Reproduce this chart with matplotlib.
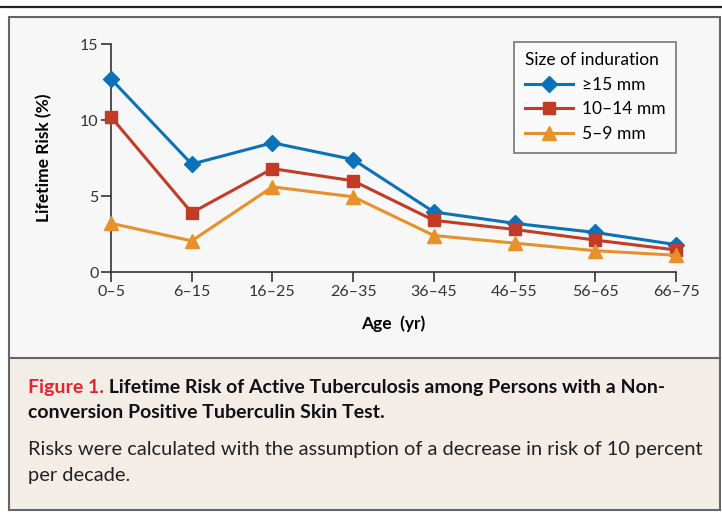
import matplotlib.pyplot as plt
from matplotlib.patches import Rectangle
from matplotlib.lines import Line2D

plt.rcParams['font.family'] = ['Lato', 'DejaVu Sans']

ages = ["0\u20135", "6\u201315", "16\u201325", "26\u201335",
        "36\u201345", "46\u201355", "56\u201365", "66\u201375"]
risk_15 = [12.7, 7.1, 8.5, 7.4, 3.95, 3.2, 2.6, 1.8]
risk_10_14 = [10.2, 3.9, 6.8, 6.0, 3.4, 2.8, 2.1, 1.45]
risk_5_9 = [3.2, 2.05, 5.6, 4.95, 2.4, 1.9, 1.4, 1.1]

W, H = 722, 513
fig = plt.figure(figsize=(W / 100, H / 100), dpi=100)
fig.patch.set_facecolor("white")


def fx(px):
    return px / W


def fy(py):
    return 1 - py / H


# background panels
fig.add_artist(Line2D([0, 1], [fy(7), fy(7)], color="#222222", lw=1.6,
                      zorder=-5))
fig.add_artist(Rectangle((fx(9), fy(358)), fx(711), fy(17) - fy(358),
                         facecolor="#f7f7f7", edgecolor="none", zorder=-5))
fig.add_artist(Rectangle((fx(9), fy(510)), fx(711), fy(358) - fy(510),
                         facecolor="#f2ede7", edgecolor="none", zorder=-5))
fig.add_artist(Rectangle((fx(9), fy(510)), fx(711), fy(17) - fy(510),
                         facecolor="none", edgecolor="#666666", lw=1.5,
                         zorder=-4))
fig.add_artist(Line2D([fx(9), fx(720)], [fy(358), fy(358)],
                      color="#666666", lw=1.5, zorder=-4))

ax = fig.add_axes([fx(111), fy(272), fx(676) - fx(111), fy(44) - fy(272)])
ax.set_facecolor("none")
ax.set_zorder(5)

x = list(range(len(ages)))
ax.plot(x, risk_15, color="#0a72b8", lw=2.2, marker="D", ms=8,
        label="\u226515 mm", clip_on=False, zorder=3)
ax.plot(x, risk_10_14, color="#c23b26", lw=2.2, marker="s", ms=9,
        label="10\u201314 mm", clip_on=False, zorder=4)
ax.plot(x, risk_5_9, color="#e8902a", lw=2.2, marker="^", ms=10,
        label="5\u20139 mm", clip_on=False, zorder=5)

ax.set_xlim(0, 7)
ax.set_ylim(0, 15)
ax.set_xticks(x)
ax.set_xticklabels(ages)
ax.set_yticks([0, 5, 10, 15])
for s in ["top", "right"]:
    ax.spines[s].set_visible(False)
for s in ["left", "bottom"]:
    ax.spines[s].set_color("#333333")
    ax.spines[s].set_linewidth(1.2)
ax.tick_params(direction="out", length=7, width=1.2, color="#333333",
               labelsize=11.5, labelcolor="#333333", pad=2)

ax.set_ylabel("Lifetime Risk (%)", fontsize=12.5, fontweight="bold",
              labelpad=20)
ax.set_xlabel("Age  (yr)", fontsize=12.5, fontweight="bold", labelpad=12)

leg = ax.legend(title="Size of induration", loc="upper right",
                bbox_to_anchor=(1.0, 1.01), borderaxespad=0,
                fontsize=12.5, title_fontsize=12.5, frameon=True,
                fancybox=False, edgecolor="#777777", facecolor="#f9f9f9",
                framealpha=1, handlelength=2.8, handletextpad=0.5,
                borderpad=0.6, labelspacing=0.5)
leg._legend_box.align = "left"
leg.get_frame().set_linewidth(1.2)

# caption
cap = 14
t1 = fig.text(fx(28), fy(388), "Figure 1.", color="#e8232b", fontsize=cap,
              fontweight="bold", va="center")
ax.annotate(" Lifetime Risk of Active Tuberculosis among Persons with a Non-",
            xy=(1, 0.5), xycoords=t1, va="center", ha="left",
            annotation_clip=False,
            fontsize=cap, fontweight="bold", color="#111111")
fig.text(fx(28), fy(413), "conversion Positive Tuberculin Skin Test.",
         fontsize=cap, fontweight="bold", va="center", color="#111111")
fig.text(fx(28), fy(450),
         "Risks were calculated with the assumption of a decrease in risk of 10 percent",
         fontsize=14.4, va="center", color="#222222")
fig.text(fx(28), fy(476), "per decade.", fontsize=14.4, va="center",
         color="#222222")

fig.savefig("out.png", dpi=100)
